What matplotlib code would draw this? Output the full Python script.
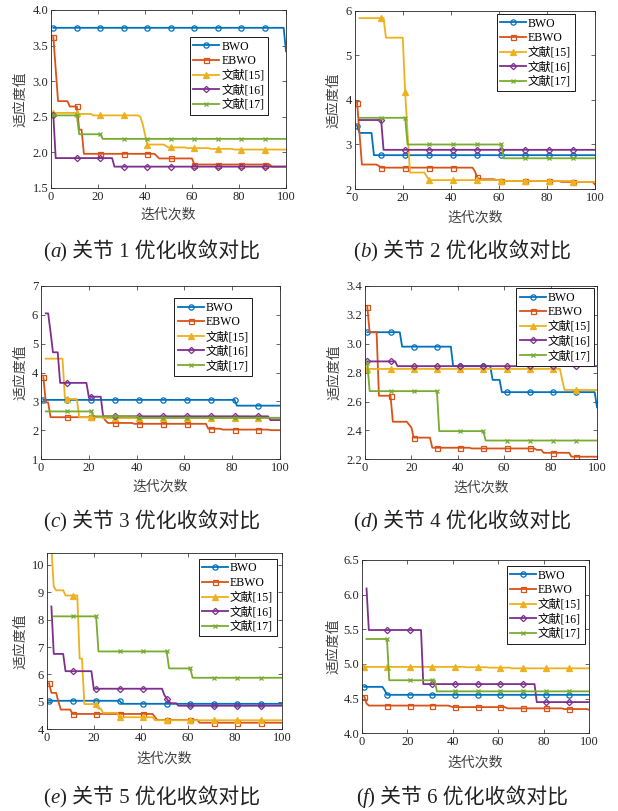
import numpy as np
import matplotlib
matplotlib.use('Agg')
import matplotlib.pyplot as plt
from matplotlib.offsetbox import TextArea, HPacker, AnnotationBbox

plt.rcParams['font.family'] = ['Liberation Serif', 'Noto Sans CJK SC']

N = np.nan
iterations = np.arange(1, 101)
series_names = ['BWO', 'EBWO', '文献[15]', '文献[16]', '文献[17]']

# Each series is stored as runs of (value, number of iterations)
# ---- (a) joint 1
bwo_a = [(3.75, 99), (3.42, 1)]
ebwo_a = [(3.62, 1), (3.17, 1), (2.72, 5), (2.645, 4), (2.32, 2), (1.98, 31), (1.95, 1),
          (1.915, 15), (1.83, 33), (1.80, 7)]
w15_a = [(2.555, 11), (2.54, 6), (2.52, 20), (2.50, 1), (2.40, 1), (2.25, 1), (2.11, 8),
         (2.09, 1), (2.07, 8), (2.06, 10), (2.05, 10), (2.04, 23)]
w16_a = [(2.52, 1), (1.92, 25), (1.80, 74)]
w17_a = [(2.52, 11), (2.255, 10), (2.19, 79)]

# ---- (b) joint 2
bwo_b = [(3.42, 1), (3.26, 6), (2.76, 93)]
ebwo_b = [(3.94, 1), (3.25, 1), (2.55, 7), (2.52, 1), (2.48, 39), (2.40, 1), (2.26, 1),
          (2.22, 7), (2.20, 2), (2.18, 25), (2.16, 14), (2.10, 1)]
w15_b = [(N, 1), (5.84, 11), (5.40, 8), (4.17, 1), (3.25, 1), (2.37, 7), (2.28, 1),
         (2.20, 30), (2.18, 30), (2.16, 10)]
w16_b = [(N, 1), (3.55, 10), (2.88, 89)]
w17_b = [(N, 1), (3.60, 20), (3.00, 40), (2.69, 39)]

# ---- (c) joint 3
bwo_c = [(3.05, 81), (2.85, 19)]
ebwo_c = [(3.84, 1), (2.96, 2), (2.45, 23), (2.33, 1), (2.25, 11), (2.22, 31), (2.05, 6),
          (2.02, 20), (2.00, 5)]
w15_c = [(N, 1), (4.48, 8), (3.12, 1), (3.08, 5), (2.45, 10), (2.42, 75)]
w16_c = [(N, 1), (6.05, 2), (5.40, 1), (4.70, 3), (3.64, 12), (3.16, 6), (2.48, 70), (2.35, 5)]
w17_c = [(N, 1), (2.65, 20), (2.48, 19), (2.43, 60)]

# ---- (d) joint 4
bwo_d = [(3.08, 15), (2.98, 22), (2.845, 17), (2.75, 4), (2.665, 41), (2.56, 1)]
ebwo_d = [(3.255, 1), (3.08, 4), (2.64, 6), (2.46, 7), (2.44, 1), (2.42, 1), (2.35, 8),
          (2.28, 17), (2.275, 28), (2.265, 3), (2.245, 12), (2.218, 12)]
w15_d = [(2.826, 84), (2.75, 1), (2.68, 15)]
w16_d = [(2.878, 13), (2.845, 87)]
w17_d = [(2.865, 1), (2.672, 30), (2.395, 20), (2.33, 49)]

# ---- (e) joint 5
bwo_e = [(5.04, 31), (4.93, 69)]
ebwo_e = [(5.68, 1), (5.33, 3), (5.00, 1), (4.72, 5), (4.56, 35), (4.45, 1), (4.34, 18), (4.24, 36)]
w15_e = [(N, 1), (10.6, 1), (9.2, 1), (9.07, 4), (8.88, 6), (6.58, 2), (4.92, 6), (4.75, 2),
         (4.60, 7), (4.44, 15), (4.33, 55)]
w16_e = [(N, 1), (8.48, 1), (6.75, 5), (6.12, 12), (5.48, 30), (5.25, 1), (5.12, 1), (5.00, 1),
         (4.95, 3), (4.86, 45)]
w17_e = [(N, 2), (8.12, 19), (6.84, 30), (6.22, 10), (5.88, 39)]

# ---- (f) joint 6
bwo_f = [(4.67, 9), (4.62, 1), (4.555, 90)]
ebwo_f = [(4.53, 1), (4.43, 1), (4.40, 36), (4.39, 1), (4.378, 24), (4.36, 25), (4.35, 11), (4.34, 1)]
w15_f = [(4.958, 45), (4.953, 10), (4.947, 10), (4.937, 35)]
w16_f = [(N, 1), (6.09, 1), (5.49, 24), (4.71, 50), (4.45, 24)]
w17_f = [(N, 1), (5.36, 10), (4.765, 21), (4.605, 68)]

panel_data = [
    [bwo_a, ebwo_a, w15_a, w16_a, w17_a],
    [bwo_b, ebwo_b, w15_b, w16_b, w17_b],
    [bwo_c, ebwo_c, w15_c, w16_c, w17_c],
    [bwo_d, ebwo_d, w15_d, w16_d, w17_d],
    [bwo_e, ebwo_e, w15_e, w16_e, w17_e],
    [bwo_f, ebwo_f, w15_f, w16_f, w17_f],
]
panel_letters = ['a', 'b', 'c', 'd', 'e', 'f']
caption_text = ['关节 1 优化收敛对比', '关节 2 优化收敛对比', '关节 3 优化收敛对比',
                '关节 4 优化收敛对比', '关节 5 优化收敛对比', '关节 6 优化收敛对比']
ylims = [(1.5, 4.0), (2, 6), (1, 7), (2.2, 3.4), (4, 10.42), (4.0, 6.5)]
yticks = [np.arange(1.5, 4.01, 0.5), np.arange(2, 6.1, 1), np.arange(1, 7.1, 1),
          np.arange(2.2, 3.41, 0.2), np.arange(4, 10.1, 1), np.arange(4.0, 6.51, 0.5)]
yfmt = ['%.1f', '%d', '%d', '%.1f', '%d', '%.1f']
xticks = [0, 20, 40, 60, 80, 100]


def expand(runs):
    arr = np.concatenate([np.full(n, v, dtype=float) for v, n in runs])
    assert len(arr) == 100, len(arr)
    return arr


FIG_W, FIG_H = 618, 811
# axes boxes in pixels: left, top, right, bottom
boxes_px = [(51, 10, 286, 188), (354.7, 11, 595, 189), (41, 286, 280, 459),
            (365, 286, 597, 459.3), (46.7, 553.3, 282, 729.3), (362, 560, 589, 733.3)]
legend_anchor = [(0.923, 0.848), (0.915, 0.983), (0.883, 0.929),
                 (0.987, 0.987), (0.977, 0.968), (0.981, 0.965)]
xlabel_off = [27, 29, 27.7, 28.7, 29, 29.3]
ylabel_off = [30.3, 20.7, 20.3, 30.3, 26, 28]
caption_pos = [(151.7, 251), (462, 251), (151.7, 521), (462, 521), (151.7, 797), (462, 797)]

colors = ['#0072BD', '#D95319', '#EDB120', '#7E2F8E', '#77AC30']
markers = ['o', 's', '^', 'D', 'x']
msizes = [3.8, 3.6, 4.5, 3.2, 3.5]
mfaces = ['none', 'none', None, 'none', None]
text_col = '#262626'

fig = plt.figure(figsize=(FIG_W / 100, FIG_H / 100), dpi=100)

for i in range(6):
    l, t, r, b = boxes_px[i]
    ax = fig.add_axes([l / FIG_W, (FIG_H - b) / FIG_H, (r - l) / FIG_W, (b - t) / FIG_H])
    for k in range(5):
        y = expand(panel_data[i][k])
        kw = dict(color=colors[k], lw=1.3, marker=markers[k], ms=msizes[k],
                  markevery=list(range(0, 100, 10)), mew=0.9, label=series_names[k])
        if mfaces[k] is not None:
            kw['mfc'] = mfaces[k]
        ax.plot(iterations, y, **kw)
    ax.set_xlim(0, 100)
    ax.set_ylim(*ylims[i])
    ax.set_xticks(xticks)
    ax.set_yticks(yticks[i])
    ax.set_yticklabels([yfmt[i] % v for v in yticks[i]])
    ax.tick_params(direction='in', length=3, width=0.5, labelsize=9, colors=text_col,
                   top=True, right=True, pad=2)
    for s in ax.spines.values():
        s.set_linewidth(0.6)
        s.set_color(text_col)
    hpx = b - t
    wpx = r - l
    ax.set_xlabel('迭代次数', fontsize=10, color='#404040', va='center')
    ax.xaxis.set_label_coords(0.5, -xlabel_off[i] / hpx)
    ax.set_ylabel('适应度值', fontsize=10, color='#404040', va='center')
    ax.yaxis.set_label_coords(-ylabel_off[i] / wpx, 0.5)
    leg = ax.legend(loc='upper right', bbox_to_anchor=legend_anchor[i], fontsize=8.5,
                    frameon=True, fancybox=False, framealpha=1, edgecolor='#1a1a1a',
                    borderpad=0.3, labelspacing=0.22, handlelength=2.2, handletextpad=0.15,
                    borderaxespad=0)
    leg.get_frame().set_linewidth(0.7)

    # caption
    tp = dict(fontsize=15, color='#222222', family=['Liberation Serif', 'Noto Sans CJK SC'])
    parts = [TextArea('(', textprops=tp),
             TextArea(panel_letters[i], textprops=dict(tp, style='italic')),
             TextArea(') ' + caption_text[i], textprops=tp)]
    box = HPacker(children=parts, pad=0, sep=0, align='baseline')
    cx, cy = caption_pos[i]
    ab = AnnotationBbox(box, (cx / FIG_W, (FIG_H - cy) / FIG_H), xycoords='figure fraction',
                        frameon=False, box_alignment=(0.5, 0.5), annotation_clip=False)
    ax.add_artist(ab)

fig.savefig('out.png', dpi=100)
